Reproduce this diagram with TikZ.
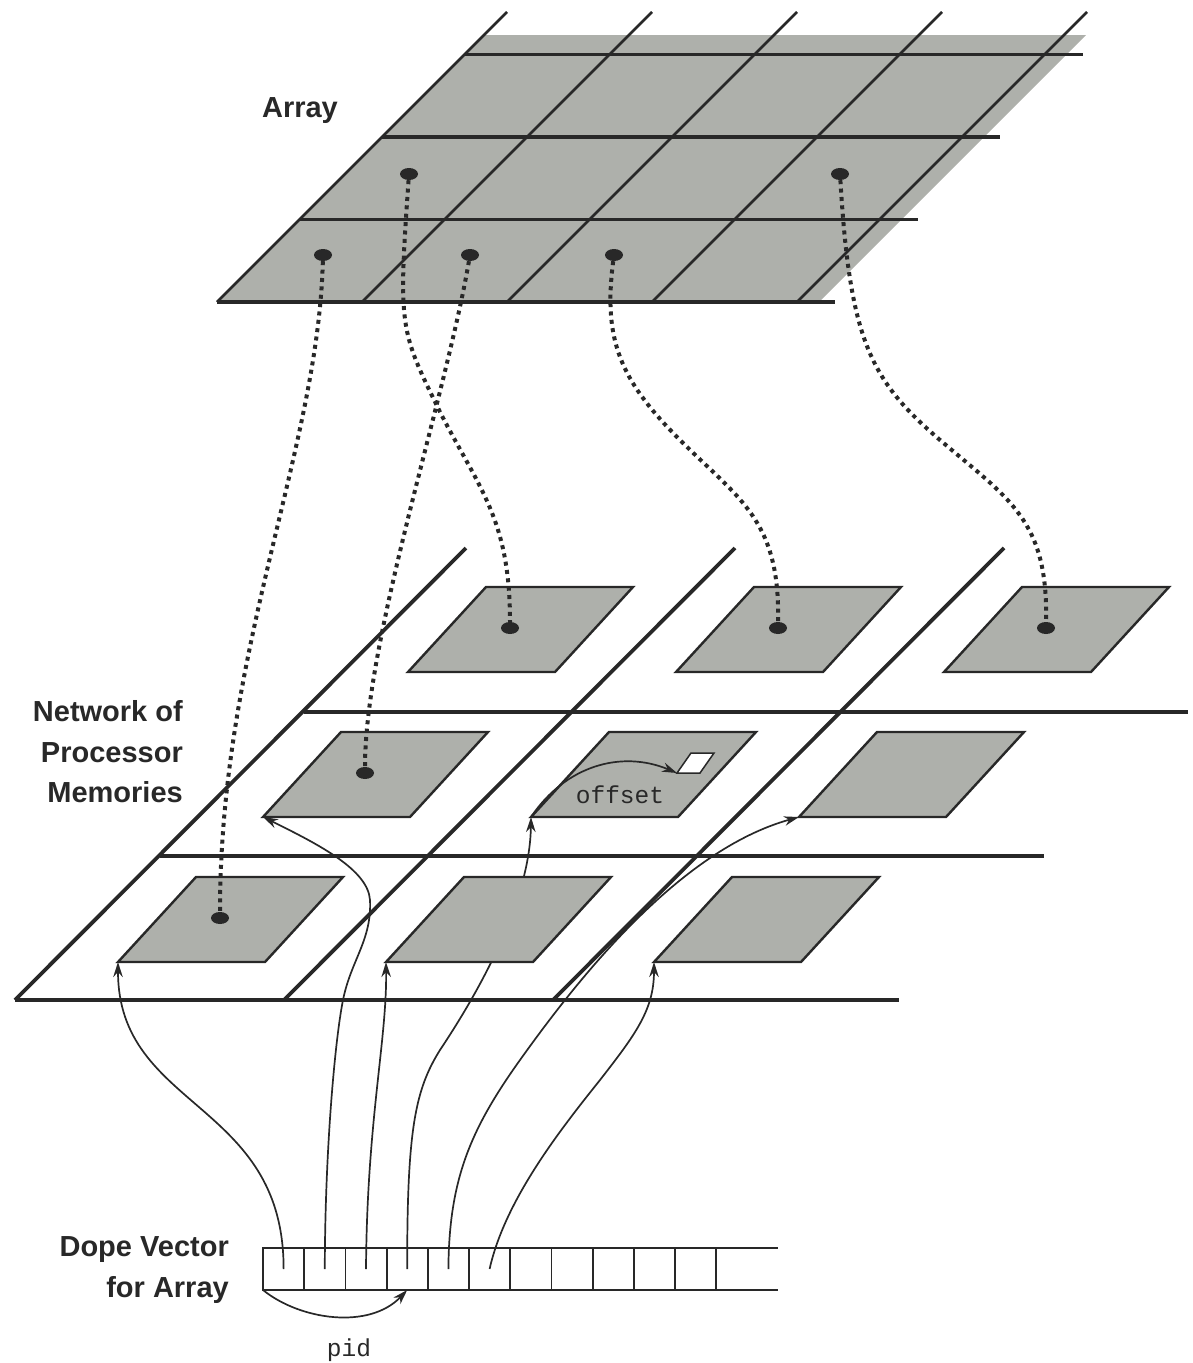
\documentclass[tikz,border=0pt]{standalone}
\usepackage{fontspec}
\setmainfont{Liberation Sans}
\setmonofont{Liberation Mono}
\usetikzlibrary{shapes.geometric, arrows.meta, positioning, calc}

\definecolor{sheet}{RGB}{174,176,171}
\definecolor{ink}{RGB}{40,40,40}

\begin{document}
\begin{tikzpicture}[
    x=1pt, y=-1pt,
    heading/.style={font=\fontsize{29}{40.5}\selectfont\bfseries, text=ink, align=right, inner sep=0pt},
    mono/.style={font=\fontsize{24.5}{27}\selectfont\ttfamily, text=ink, inner sep=0pt},
    gridline/.style={draw=ink, line width=3.8pt},
    slant/.style={draw=ink, line width=2.6pt},
    tile/.style={fill=sheet, draw=ink, line width=2.4pt},
    memdot/.style={ellipse, fill=ink, inner sep=0pt, minimum width=18pt, minimum height=12pt},
    link/.style={draw=ink, line width=4pt, dash pattern=on 4pt off 4.4pt},
    ptr/.style={draw=ink, line width=1.7pt, -{Stealth[length=15pt, width=9.5pt]}},
    cell/.style={draw=ink, line width=1.8pt, minimum width=41.2pt, minimum height=42pt, inner sep=0pt, outer sep=0pt}
]
\useasboundingbox (0,0) rectangle (1193,1363);

% Array
\fill[sheet] (217,302) -- (819,302) -- (1086,35) -- (484,35) -- cycle;
\foreach \i in {0,...,4}
  \draw[slant] (217+145*\i,302) -- ++(290,-290);
\foreach \j in {0,...,3}
  \draw[gridline] (217+82.5*\j,302-82.5*\j) -- ++(618,0);
\node[heading] (arraylabel) at (300,111) {Array};

\node[memdot] (a1) at (323,255) {};
\node[memdot] (a2) at (409,174) {};
\node[memdot] (a3) at (470,255) {};
\node[memdot] (a4) at (614,255) {};
\node[memdot] (a5) at (840,174) {};

% Network of processor memories
\foreach \i in {0,1,2}
  \draw[gridline] (15+269*\i,1000) -- ++(451,-452);
\foreach \j in {0,1,2}
  \draw[gridline] (15+144.5*\j,1000-144*\j) -- ++(884,0);
\node[heading, anchor=east] (netlabel) at (183,752) {Network of\\Processor\\Memories};

\foreach \i in {0,1,2}
  \foreach \j in {0,1,2}
    \coordinate (t\i\j) at (118+268*\i+145*\j,962-145*\j);

% Dope vector
\foreach \k in {0,...,10}
  \node[cell] (c\k) at (283.6+41.2*\k,1269) {};
\draw[ink, line width=1.8pt] (c10.north east) -- ++(62,0) (c10.south east) -- ++(62,0);
\node[heading, anchor=east] (dopelabel) at (229,1270) {Dope Vector\\for Array};

% this pointer runs under a memory
\draw[ptr] (c3.center) .. controls (407,1130) and (415,1090) .. (440,1050)
  .. controls (480,990) and (530,900) .. (t11);

% Memories
\foreach \i in {0,1,2}
  \foreach \j in {0,1,2}
    \draw[tile] (t\i\j) -- ++(147,0) -- ++(78,-85) -- ++(-147,0) -- cycle;

\node[memdot] (m00) at ($(t00)+(102,-44)$) {};
\node[memdot] (m01) at ($(t01)+(102,-44)$) {};
\node[memdot] (m02) at ($(t02)+(102,-44)$) {};
\node[memdot] (m12) at ($(t12)+(102,-44)$) {};
\node[memdot] (m22) at ($(t22)+(102,-44)$) {};

\coordinate (slot) at ($(t11)+(146,-44)$);
\draw[ink, fill=white, line width=1.5pt] (slot) -- ++(23,0) -- ++(14,-20) -- ++(-23,0) -- cycle;
\node[mono] (offsetlabel) at (620,795) {offset};

% Elements to memories
\draw[link] (a1) .. controls (318,450) and (220,650) .. (m00);
\draw[link] (a2) .. controls (398,330) and (400,330) .. (440,412)
  .. controls (480,490) and (510,520) .. (m02);
\draw[link] (a3) .. controls (445,400) and (365,640) .. (m01);
\draw[link] (a4) .. controls (603,340) and (620,380) .. (680,440)
  .. controls (740,500) and (780,520) .. (m12);
\draw[link] (a5) .. controls (850,340) and (870,380) .. (940,440)
  .. controls (1010,500) and (1048,520) .. (m22);

% Dope vector to memories
\draw[ptr] (c0.center) .. controls (284,1100) and (118,1110) .. (t00);
\draw[ptr] (c1.center) .. controls (325,1150) and (335,1040) .. (343,1000)
  .. controls (351,960) and (372,940) .. (370,900)
  .. controls (368,870) and (320,845) .. (t01);
\draw[ptr] (c2.center) .. controls (367,1120) and (387,1040) .. (t10);
\draw[ptr] (c4.center) .. controls (449,1180) and (470,1130) .. (520,1060)
  .. controls (580,976) and (680,850) .. (t21);
\draw[ptr] (c5.center) .. controls (505,1200) and (560,1130) .. (600,1080)
  .. controls (635,1035) and (654,1010) .. (t20);

\draw[ptr] (t11) .. controls +(35,-52) and +(-55,-23) .. (slot);
\draw[ptr] (c0.south west) .. controls +(37,30) and +(-38,40) .. (c3.south);
\node[mono] (pidlabel) at (349,1350) {pid};

\end{tikzpicture}
\end{document}
